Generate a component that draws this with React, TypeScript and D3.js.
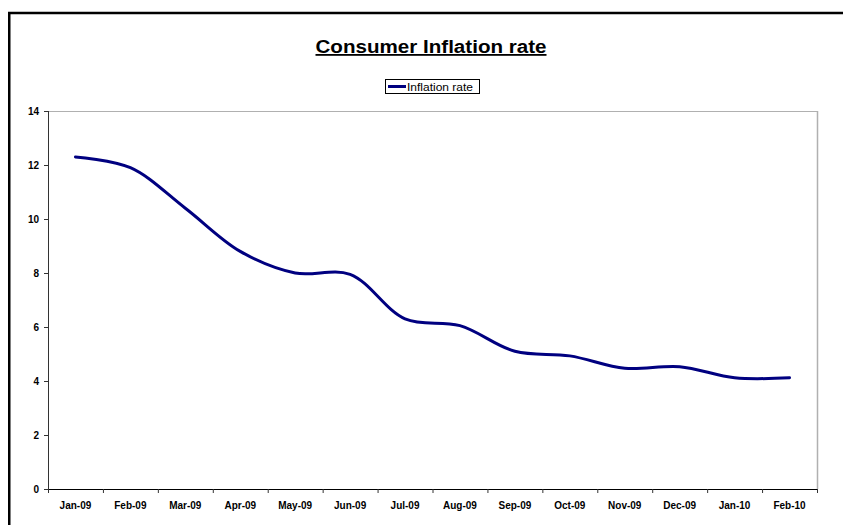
import React from "react";
import * as d3 from "d3";

const categories = ["Jan-09","Feb-09","Mar-09","Apr-09","May-09","Jun-09","Jul-09","Aug-09","Sep-09","Oct-09","Nov-09","Dec-09","Jan-10","Feb-10"];
const inflation = [12.3, 11.9, 10.4, 8.8, 8.0, 7.95, 6.3, 6.05, 5.1, 4.93, 4.47, 4.53, 4.12, 4.12];
const yTicks = [0, 2, 4, 6, 8, 10, 12, 14];
const title = "Consumer Inflation rate";
const seriesName = "Inflation rate";

const W = 843, H = 525;
const left = 48, right = 817, top = 111, bottom = 489;

export default function App() {
  const x = d3.scaleBand<string>().domain(categories).range([left, right]).padding(0);
  const y = d3.scaleLinear().domain([0, 14]).range([bottom, top]);
  const line = d3
    .line<number>()
    .x((_, i) => (x(categories[i]) as number) + x.bandwidth() / 2)
    .y((d) => y(d))
    .curve(d3.curveCatmullRom.alpha(0.5));
  const boundaries = d3.range(categories.length + 1).map((i) => left + i * x.bandwidth());
  const font = "Arial, 'Liberation Sans', Helvetica, sans-serif";

  return (
    <svg
      width={W}
      height={H}
      style={{ position: "fixed", left: 0, top: 0, display: "block", background: "#fff" }}
      fontFamily={font}
    >
      <rect x={0} y={0} width={W} height={H} fill="#fff" />
      {/* outer frame */}
      <rect x={9.25} y={13} width={900} height={600} fill="none" stroke="#000" strokeWidth={2.5} />

      {/* title */}
      <text
        x={431}
        y={53}
        textAnchor="middle"
        fontSize={18}
        fontWeight="bold"
        textLength={231}
        lengthAdjust="spacingAndGlyphs"
        textDecoration="underline"
        fill="#000"
      >
        {title}
      </text>

      {/* legend */}
      <rect x={385.5} y={79.5} width={94} height={14} fill="#fff" stroke="#000" strokeWidth={1} />
      <line x1={388} x2={406} y1={86.5} y2={86.5} stroke="#000080" strokeWidth={3} />
      <text x={407} y={90.5} fontSize={10.5} textLength={66} lengthAdjust="spacingAndGlyphs" fill="#000">{seriesName}</text>

      {/* plot area border */}
      <line x1={left} x2={right} y1={top + 0.5} y2={top + 0.5} stroke="#b0b0b0" strokeWidth={1} />
      <line x1={right + 0.5} x2={right + 0.5} y1={top} y2={bottom} stroke="#b0b0b0" strokeWidth={1.5} />

      {/* y axis */}
      <line x1={left + 0.5} x2={left + 0.5} y1={top} y2={bottom} stroke="#333" strokeWidth={1} />
      {yTicks.map((t) => (
        <g key={t}>
          <line x1={left - 4} x2={left} y1={y(t) + 0.5} y2={y(t) + 0.5} stroke="#333" strokeWidth={1} />
          <text x={39} y={y(t) + 4} textAnchor="end" fontSize={10} fontWeight="bold" fill="#000">
            {t}
          </text>
        </g>
      ))}

      {/* x axis */}
      <line x1={left} x2={right + 1} y1={bottom + 0.5} y2={bottom + 0.5} stroke="#000" strokeWidth={1} />
      {boundaries.map((b, i) => (
        <line key={i} x1={b + 0.5} x2={b + 0.5} y1={bottom} y2={bottom + 4} stroke="#333" strokeWidth={1} />
      ))}
      {categories.map((c) => (
        <text
          key={c}
          x={(x(c) as number) + x.bandwidth() / 2}
          y={508.5}
          textAnchor="middle"
          fontSize={10}
          fontWeight="bold"
          fill="#000"
        >
          {c}
        </text>
      ))}

      {/* series */}
      <path d={line(inflation) || ""} fill="none" stroke="#000080" strokeWidth={3} strokeLinecap="round" strokeLinejoin="round" />
    </svg>
  );
}
